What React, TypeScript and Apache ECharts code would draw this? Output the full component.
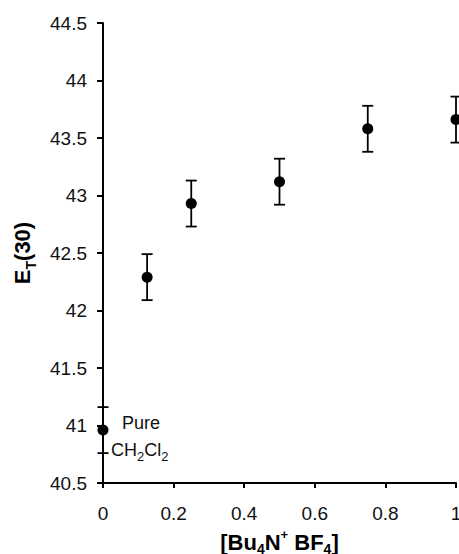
import React, { useEffect, useRef } from "react";
import * as echarts from "echarts";

const xValues = [0, 0.125, 0.25, 0.5, 0.75, 1];
const yValues = [40.96, 42.29, 42.93, 43.12, 43.58, 43.66];
const yErrors = [0.2, 0.2, 0.2, 0.2, 0.2, 0.2];
const yAxisName = "{a|E}{sub|T}{a|(30)}";
const xAxisName = "{a|[Bu}{sub|4}{a|N}{sup|+}{a| BF}{sub|4}{a|]}";
const annotationLines = ["Pure", "{a|CH}{sub|2}{a|Cl}{sub|2}"];

export default function App() {
  const ref = useRef<HTMLDivElement>(null);
  useEffect(() => {
    if (!ref.current) return;
    const chart = echarts.init(ref.current, null, { renderer: "svg" });
    const font = "'Liberation Sans', Arial, sans-serif";
    const points = xValues.map((x, i) => [x, yValues[i]]);
    const errs = xValues.map((x, i) => [x, yValues[i], yErrors[i]]);
    chart.setOption({
      animation: false,
      backgroundColor: "#fff",
      grid: { left: 103, right: 3, top: 23, bottom: 71, containLabel: false, outerBoundsMode: "none" },
      xAxis: {
        type: "value",
        min: 0,
        max: 1,
        interval: 0.2,
        splitLine: { show: false },
        axisLine: { lineStyle: { color: "#000", width: 2 } },
        axisTick: { show: true, length: 5, lineStyle: { color: "#000", width: 2 } },
        axisLabel: { color: "#111", fontSize: 19, fontFamily: font, margin: 21 },
        name: xAxisName,
        nameLocation: "middle",
        nameGap: 48,
        nameMoveOverlap: false,
        nameTextStyle: {
          rich: {
            a: { fontSize: 22, fontWeight: "bold", fontFamily: font, color: "#000" },
            sub: { fontSize: 14, fontWeight: "bold", fontFamily: font, color: "#000", verticalAlign: "bottom", padding: [0, 0, -3, 0] },
            sup: { fontSize: 13, fontWeight: "bold", fontFamily: font, color: "#000", verticalAlign: "top", padding: [-3, 0, 0, 0] },
          },
        },
      },
      yAxis: {
        type: "value",
        min: 40.5,
        max: 44.5,
        interval: 0.5,
        splitLine: { show: false },
        axisLine: { show: true, lineStyle: { color: "#000", width: 2 } },
        axisTick: { show: true, length: 6, lineStyle: { color: "#000", width: 2 } },
        axisLabel: { color: "#111", fontSize: 19, fontFamily: font, margin: 16 },
        name: yAxisName,
        nameLocation: "middle",
        nameGap: 70,
        nameRotate: 90,
        nameMoveOverlap: false,
        nameTextStyle: {
          rich: {
            a: { fontSize: 22, fontWeight: "bold", fontFamily: font, color: "#000" },
            sub: { fontSize: 14, fontWeight: "bold", fontFamily: font, color: "#000", verticalAlign: "bottom", padding: [0, 0, -5, 0] },
          },
        },
      },
      graphic: [
        {
          type: "text",
          x: 122,
          y: 423,
          style: { text: annotationLines[0], fontSize: 18, fontFamily: font, fill: "#111", verticalAlign: "middle" },
        },
        {
          type: "text",
          x: 111,
          y: 450,
          style: {
            text: annotationLines[1],
            fontFamily: font,
            fill: "#111",
            verticalAlign: "middle",
            rich: {
              a: { fontSize: 18, fontFamily: font, fill: "#111" },
              sub: { fontSize: 13, fontFamily: font, fill: "#111", verticalAlign: "bottom", padding: [0, 0, -4, 0] },
            },
          },
        },
      ],
      series: [
        {
          type: "custom",
          data: errs,
          clip: false,
          z: 2,
          renderItem: (params: any, api: any) => {
            const x = api.value(0);
            const y = api.value(1);
            const e = api.value(2);
            const p = api.coord([x, y + e]);
            const q = api.coord([x, y - e]);
            const hw = 5.5;
            const st = { stroke: "#000", lineWidth: 1.8 };
            return {
              type: "group",
              children: [
                { type: "line", shape: { x1: p[0], y1: p[1], x2: q[0], y2: q[1] }, style: st },
                { type: "line", shape: { x1: p[0] - hw, y1: p[1], x2: p[0] + hw, y2: p[1] }, style: st },
                { type: "line", shape: { x1: q[0] - hw, y1: q[1], x2: q[0] + hw, y2: q[1] }, style: st },
              ],
            };
          },
        },
        {
          type: "scatter",
          data: points,
          symbol: "circle",
          symbolSize: 11,
          clip: false,
          z: 3,
          itemStyle: { color: "#000", opacity: 1 },
        },
      ],
    });
    return () => chart.dispose();
  }, []);
  return (
    <div
      ref={ref}
      style={{ position: "absolute", left: 0, top: 0, width: 459, height: 554 }}
    />
  );
}
